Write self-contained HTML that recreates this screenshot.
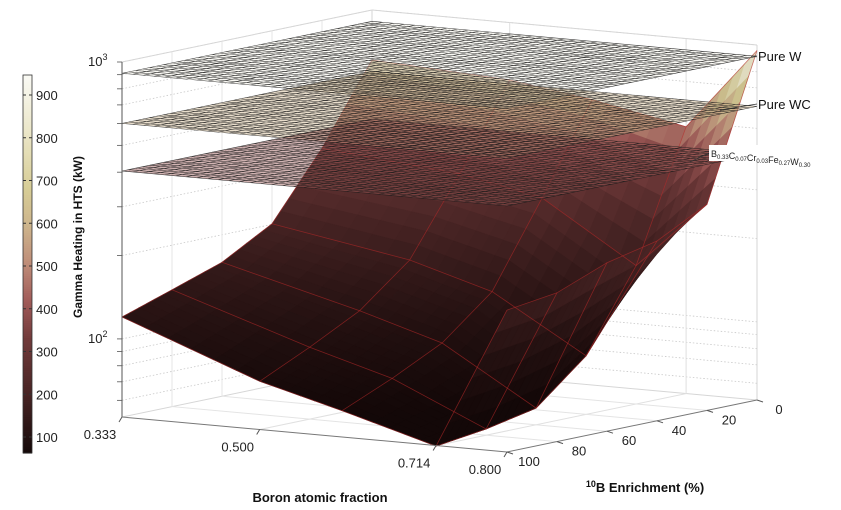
<!DOCTYPE html>
<html><head><meta charset="utf-8"><style>
html,body{margin:0;padding:0;background:#fff;}
svg{display:block;font-family:"Liberation Sans",Arial,sans-serif;}
</style></head><body>
<svg id="chart" width="841" height="510" viewBox="0 0 841 510">
<g id="walls"></g>
<g id="surf"></g>
<g id="planes"></g>
<g id="axes"></g>
<g id="cbar"></g>
</svg>
<script>
const boronValues = [0.333, 0.5, 0.6, 0.714, 0.8];
const enrichmentValues = [100, 80, 60, 40, 20, 0];
const heatingRow0333 = [120, 138, 159, 201, 345, 660];
const heatingRow0500 = [78, 95, 118, 165, 310, 620];
const heatingRow0600 = [65, 78, 96, 135, 270, 560];
const heatingRow0714 = [52, 55, 60, 85, 165, 480];
const heatingRow0800 = [170, 180, 212, 233, 290, 955];
const planeNames = ["Pure W", "Pure WC", "B0.33C0.07Cr0.03Fe0.27W0.30"];
const planeValues = [910, 600, 404];
const boronTicks = [0.333, 0.5, 0.714, 0.8];
const boronTickLabels = ["0.333", "0.500", "0.714", "0.800"];
const enrichTicks = [0, 20, 40, 60, 80, 100];
const cbTicks = [100, 200, 300, 400, 500, 600, 700, 800, 900];

const NS = "http://www.w3.org/2000/svg";
const rows = [heatingRow0333, heatingRow0500, heatingRow0600, heatingRow0714, heatingRow0800];
const ZMIN = 1.718, ZMAX = 3.0, CMIN = 62, CMAX = 947;
function nb(b){return (b-0.333)/(0.8-0.333);}
function ne(e){return (100-e)/100;}
function zn(v){return (Math.log10(v)-ZMIN)/(ZMAX-ZMIN);}
function P(b,e,v){const u=nb(b),w=ne(e),h=(v==null?0:zn(v));return [122+385*u+250*w, 417+35*u-52*w-355*h];}
function Pn(u,w,h){return [122+385*u+250*w, 417+35*u-52*w-355*h];}
const stops=[[0,[20,8,8]],[0.15,[70,35,35]],[0.3,[112,58,58]],[0.4,[160,90,88]],[0.5,[190,140,120]],[0.6,[205,180,140]],[0.7,[215,205,150]],[0.85,[235,230,200]],[1,[250,250,245]]];
function cmap(v,f){let t=(v-CMIN)/(CMAX-CMIN);t=Math.max(0,Math.min(1,t));f=f||1;
 for(let i=1;i<stops.length;i++){if(t<=stops[i][0]){const a=stops[i-1],b=stops[i],k=(t-a[0])/(b[0]-a[0]);
 const c=a[1].map((x,j)=>Math.round(Math.min(255,(x+(b[1][j]-x)*k)*f)));return `rgb(${c[0]},${c[1]},${c[2]})`;}}return "#fff";}
function el(tag,attrs,parent,txt){const e=document.createElementNS(NS,tag);for(const k in attrs)e.setAttribute(k,attrs[k]);if(txt!=null)e.textContent=txt;parent.appendChild(e);return e;}
const pts=a=>a.map(p=>p[0].toFixed(1)+","+p[1].toFixed(1)).join(" ");

// walls & grid
const W=document.getElementById("walls");
const logTicks=[60,70,80,90,100,200,300,400,500,600,700,800,900,1000];
logTicks.forEach(v=>{
 const a=Pn(0,0,zn(v)),b=Pn(0,1,zn(v)),c=Pn(1,1,zn(v));
 const l=el("polyline",{points:pts([a,b,c]),fill:"none",stroke:"#c8c8c8","stroke-width":0.8,"stroke-dasharray":"1.5,2"},W);
 
 
});
const edges=[[Pn(0,1,0),Pn(0,1,1)],[Pn(1,1,0),Pn(1,1,1)],[Pn(0,0,1),Pn(0,1,1)],[Pn(0,1,1),Pn(1,1,1)],[Pn(0,0,0),Pn(0,1,0)],[Pn(0,1,0),Pn(1,1,0)]];
edges.forEach(s=>{const l=el("line",{x1:s[0][0],y1:s[0][1],x2:s[1][0],y2:s[1][1],stroke:"#d6d6d6","stroke-width":1},W);
 });
[0.5,0.714].forEach(b=>{const a=Pn(nb(b),1,0),c=Pn(nb(b),1,1),d=Pn(nb(b),0,0);
 const l=el("polyline",{points:pts([d,a,c]),fill:"none",stroke:"#e0e0e0","stroke-width":1},W);
 });
[20,40,60,80].forEach(e=>{const a=Pn(0,ne(e),0),c=Pn(0,ne(e),1),d=Pn(1,ne(e),0);
 const l=el("polyline",{points:pts([d,a,c]),fill:"none",stroke:"#e4e4e4","stroke-width":1},W);
 });

// surface
const S=document.getElementById("surf");
const N=6, facets=[];
for(let i=0;i<boronValues.length-1;i++)for(let j=0;j<enrichmentValues.length-1;j++){
 const L=[[Math.log10(rows[i][j]),Math.log10(rows[i][j+1])],[Math.log10(rows[i+1][j]),Math.log10(rows[i+1][j+1])]];
 const u0=nb(boronValues[i]),u1=nb(boronValues[i+1]),w0=ne(enrichmentValues[j]),w1=ne(enrichmentValues[j+1]);
 const val=(s,t)=>{const l=L[0][0]*(1-s)*(1-t)+L[1][0]*s*(1-t)+L[0][1]*(1-s)*t+L[1][1]*s*t;return Math.pow(10,l);};
 for(let a=0;a<N;a++)for(let c=0;c<N;c++){
  const q=[[a,c],[a+1,c],[a+1,c+1],[a,c+1]].map(([s,t])=>{s/=N;t/=N;const v=val(s,t);return {p:Pn(u0+(u1-u0)*s,w0+(w1-w0)*t,zn(v)),v};});
  const vm=val((a+.5)/N,(c+.5)/N);
  const uc=u0+(u1-u0)*(a+.5)/N,wc=w0+(w1-w0)*(c+.5)/N;
  facets.push({q,vm,d:wc+(1-uc)});
 }
}
facets.sort((x,y)=>y.d-x.d);
facets.forEach(f=>{const col=cmap(f.vm,0.95);
 const p=el("polygon",{points:pts(f.q.map(o=>o.p)),fill:col,stroke:col,"stroke-width":0.6},S);
 });
for(let i=0;i<boronValues.length;i++){
 const l=el("polyline",{points:pts(enrichmentValues.map((e,j)=>P(boronValues[i],e,rows[i][j]))),fill:"none",stroke:"#b52a2a","stroke-width":0.8,opacity:0.6},S);
 }
for(let j=0;j<enrichmentValues.length;j++){
 const l=el("polyline",{points:pts(boronValues.map((b,i)=>P(b,enrichmentValues[j],rows[i][j]))),fill:"none",stroke:"#b52a2a","stroke-width":0.8,opacity:0.6},S);
 }

// planes
const PL=document.getElementById("planes");
planeValues.forEach((v,k)=>{
 const h=zn(v);
 const poly=el("polygon",{points:pts([Pn(0,0,h),Pn(1,0,h),Pn(1,1,h),Pn(0,1,h)]),fill:cmap(v,1),"fill-opacity":0.45,stroke:"none"},PL);
 
 const M=36;let d="";
 for(let m=0;m<=M;m++){const t=m/M;const a=Pn(t,0,h),b=Pn(t,1,h),c=Pn(0,t,h),e=Pn(1,t,h);
  d+=`M${a[0].toFixed(1)},${a[1].toFixed(1)}L${b[0].toFixed(1)},${b[1].toFixed(1)}M${c[0].toFixed(1)},${c[1].toFixed(1)}L${e[0].toFixed(1)},${e[1].toFixed(1)}`;}
 const g=el("path",{d,stroke:"#1a1a1a","stroke-width":0.55,"stroke-opacity":0.85,fill:"none"},PL);
 
});
// plane labels
const A=document.getElementById("axes");
const pw=Pn(1,1,zn(planeValues[0]));
let t=el("text",{x:758,y:61,"font-size":13,fill:"#111"},A,planeNames[0]);
el("line",{x1:pw[0]-6,y1:pw[1],x2:757,y2:56,stroke:"#333","stroke-width":0.7},A);
t=el("text",{x:758,y:109,"font-size":13,fill:"#111"},A,planeNames[1]);
el("line",{x1:720,y1:110,x2:757,y2:104,stroke:"#333","stroke-width":0.7},A);
el("rect",{x:709,y:145,width:124,height:16,fill:"#fff"},A);
el("line",{x1:690,y1:162,x2:709,y2:153,stroke:"#333","stroke-width":0.7},A);
t=el("text",{x:711,y:157,"font-size":9,fill:"#222"},A);

[["B","0.33"],["C","0.07"],["Cr","0.03"],["Fe","0.27"],["W","0.30"]].forEach(([s,n])=>{el("tspan",{},t,s);el("tspan",{"font-size":6,dy:2},t,n);el("tspan",{dy:-2,"font-size":9},t,"");});

// z axis
el("line",{x1:122,y1:62,x2:122,y2:417,stroke:"#555","stroke-width":1},A);
logTicks.forEach(v=>{const y=Pn(0,0,zn(v))[1];el("line",{x1:117,y1:y,x2:122,y2:y,stroke:"#555","stroke-width":0.8},A);});
[[1000,"3"],[100,"2"]].forEach(([v,e])=>{const y=Pn(0,0,zn(v))[1];
 const tx=el("text",{x:88,y:y+4,"font-size":13,fill:"#222"},A,"10");
 el("tspan",{"font-size":9,dy:-6},tx,e);});
t=el("text",{x:0,y:0,"font-size":12,"font-weight":"bold",fill:"#111","text-anchor":"middle",transform:"translate(82,237) rotate(-90)"},A,"Gamma Heating in HTS (kW)");

// boron axis
el("line",{x1:122,y1:417,x2:Pn(1,0,0)[0],y2:Pn(1,0,0)[1],stroke:"#777","stroke-width":1},A);
boronTicks.forEach((b,i)=>{const p=Pn(nb(b),0,0);
 el("line",{x1:p[0],y1:p[1],x2:p[0]-3,y2:p[1]+5,stroke:"#555"},A);
 const tx=el("text",{x:p[0]-22,y:p[1]+22,"font-size":13,fill:"#222","text-anchor":"middle"},A,boronTickLabels[i]);
 });
t=el("text",{x:320,y:502,"font-size":13,"font-weight":"bold",fill:"#111","text-anchor":"middle"},A,"Boron atomic fraction");

// enrichment axis
el("line",{x1:Pn(1,0,0)[0],y1:Pn(1,0,0)[1],x2:Pn(1,1,0)[0],y2:Pn(1,1,0)[1],stroke:"#777","stroke-width":1},A);
enrichTicks.forEach(e=>{const p=Pn(1,ne(e),0);
 el("line",{x1:p[0],y1:p[1],x2:p[0]+6,y2:p[1]+2,stroke:"#555"},A);
 const tx=el("text",{x:p[0]+22,y:p[1]+14,"font-size":13,fill:"#222","text-anchor":"middle"},A,String(e));
 });
t=el("text",{x:645,y:492,"font-size":13,"font-weight":"bold",fill:"#111","text-anchor":"middle"},A);

el("tspan",{"font-size":9,dy:-5},t,"10");el("tspan",{dy:5},t,"B Enrichment (%)");

// colorbar
const C=document.getElementById("cbar");
const cy=v=>437-(v-100)*0.4275;
for(let v=CMIN;v<CMAX;v+=5){el("rect",{x:23,y:cy(v+5)-0.3,width:9,height:5*0.4275+0.6,fill:cmap(v+2.5,1)},C);}
el("rect",{x:23,y:75,width:9,height:378,fill:"none",stroke:"#333","stroke-width":0.8},C);
cbTicks.forEach(v=>{const y=cy(v);el("line",{x1:23,y1:y,x2:26,y2:y,stroke:"#333"},C);el("line",{x1:29,y1:y,x2:32,y2:y,stroke:"#333"},C);
 const tx=el("text",{x:36,y:y+5,"font-size":13,fill:"#222"},C,String(v));});
</script>
</body></html>
